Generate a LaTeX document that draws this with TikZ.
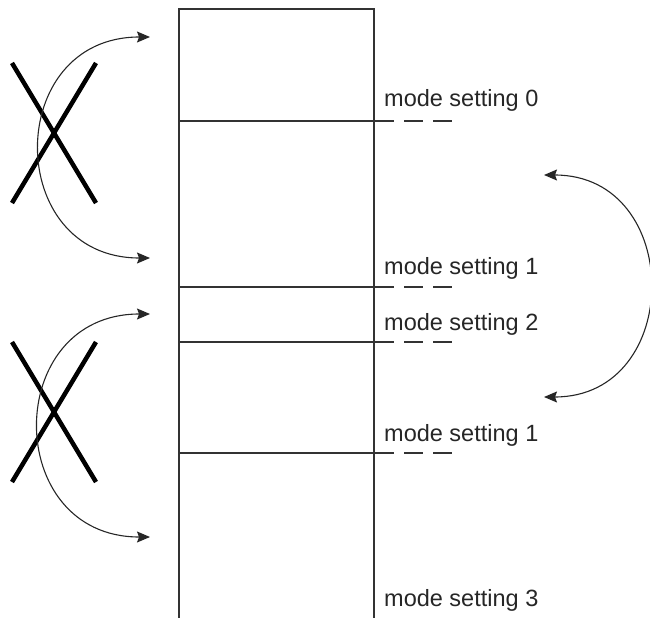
\documentclass[tikz,border=0pt]{standalone}
\usepackage{fontspec}
\setmainfont{Liberation Sans}
\usetikzlibrary{arrows.meta}

\begin{document}
\begin{tikzpicture}[x=1bp,y=-1bp,
	wall/.style={draw=black!80, line width=2.2bp},
	trail/.style={draw=black!80, line width=2.2bp, dash pattern=on 19bp off 10bp},
	swap/.style={draw=black!85, line width=1.1bp, {Stealth[length=13bp,width=11bp,inset=2bp]}-{Stealth[length=13bp,width=11bp,inset=2bp]}},
	cross/.style={draw=black, line width=4.5bp},
	lbl/.style={anchor=base west, inner sep=0pt, text=black!85, font=\fontsize{23.5bp}{28bp}\selectfont}]
	\useasboundingbox (0,0) rectangle (650,618);

	% the column, open at the bottom
	\draw[wall] (179,618) -- (179,9) -- (374,9) -- (374,618);

	% boundaries, each running on as a dashed trail
	\foreach \y in {121, 287, 342, 453}{
		\draw[wall] (179,\y) -- (375,\y);
		\draw[trail] (375,\y) -- (452,\y);
	}

	\node[lbl] (msa) at (384,107) {mode setting 0};
	\node[lbl] (msb) at (384,274) {mode setting 1};
	\node[lbl] (msc) at (384,330) {mode setting 2};
	\node[lbl] (msd) at (384,441) {mode setting 1};
	\node[lbl] (mse) at (384,606) {mode setting 3};

	% ends of the swap arrows
	\coordinate (la1) at (150,37);
	\coordinate (la2) at (150,258);
	\coordinate (lb1) at (150,314);
	\coordinate (lb2) at (150,537);
	\coordinate (ra1) at (544,175);
	\coordinate (ra2) at (544,397);

	% crossed out swaps on the left
	\draw[cross] (12,63) -- (96,203);
	\draw[cross] (96,63) -- (12,203);
	\draw[cross] (12,342) -- (96,482);
	\draw[cross] (96,342) -- (12,482);

	\draw[swap] (la1) to[out=180, in=180, looseness=1.7] (la2);
	\draw[swap] (lb1) to[out=180, in=180, looseness=1.7] (lb2);
	\draw[swap] (ra1) to[out=0, in=0, looseness=1.62] (ra2);
\end{tikzpicture}
\end{document}
